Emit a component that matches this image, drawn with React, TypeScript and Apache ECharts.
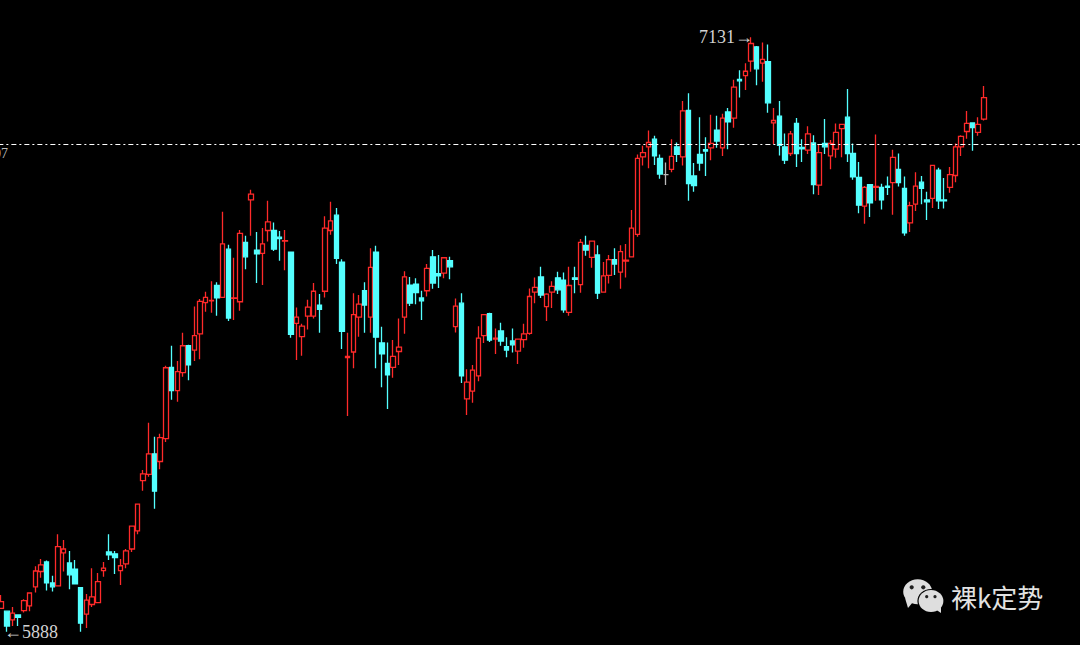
import React, { useEffect, useRef } from "react";
import * as echarts from "echarts";

const opens = [
  5937,5931,5913,5923,5932,5942,5982,6014,6034,5990,
  5984,6053,6032,6019,5980,5925,5945,5949,6016,6055,
  6051,6016,6030,6061,6099,6204,6217,6260,6244,6292,
  6441,6392,6430,6486,6477,6511,6576,6580,6612,6587,
  6688,6585,6578,6702,6791,6686,6679,6727,6727,6713,
  6705,6682,6533,6505,6548,6548,6571,6600,6727,6759,
  6661,6461,6473,6546,6601,6546,6682,6492,6449,6441,
  6474,6546,6613,6615,6586,6601,6672,6637,6638,6664,
  6526,6575,6375,6391,6423,6507,6553,6500,6517,6484,
  6496,6475,6499,6512,6598,6630,6568,6598,6628,6623,
  6556,6628,6614,6696,6671,6676,6598,6633,6666,6640,
  6663,6672,6719,6881,6902,6918,6878,6844,6855,6902,
  6881,6978,6841,6886,6896,6900,6937,6900,6975,6962,
  7043,7051,7081,7111,7077,7080,6952,6966,6902,6888,
  6951,6901,6895,6910,6822,6909,6883,6897,6940,6964,
  6888,6838,6778,6823,6817,6817,6820,6827,6855,6815,
  6743,6782,6828,6791,6794,6853,6791,6817,6842,6902,
  6934,6952,6932,6960,
];
const closes = [
  5951,5900,5927,5918,5953,5969,6015,6028,5990,5982,
  6066,6061,6007,5988,5906,5954,5961,5993,6021,6049,
  6043,6026,6057,6109,6155,6218,6260,6182,6294,6440,
  6392,6432,6486,6446,6507,6579,6587,6581,6586,6699,
  6544,6586,6721,6672,6803,6678,6699,6745,6688,6710,
  6706,6510,6546,6527,6567,6600,6562,6732,6747,6669,
  6516,6464,6551,6573,6571,6650,6504,6469,6425,6464,
  6483,6630,6575,6597,6580,6648,6617,6632,6670,6651,
  6569,6423,6410,6435,6502,6551,6498,6502,6496,6477,
  6488,6500,6511,6589,6608,6592,6594,6610,6603,6561,
  6612,6625,6702,6686,6705,6596,6632,6666,6657,6683,
  6665,6732,6878,6890,6911,6883,6845,6844,6882,6886,
  6977,6825,6821,6868,6893,6909,6914,6962,6954,7027,
  7040,7060,7118,7065,7085,6994,6957,6905,6874,6929,
  6888,6898,6929,6823,6890,6902,6909,6932,6949,6888,
  6839,6780,6817,6785,6819,6791,6817,6880,6827,6722,
  6779,6820,6815,6787,6863,6789,6789,6844,6902,6924,
  6951,6942,6949,7005,
];
const lows = [
  5937,5888,5900,5900,5928,5931,5970,6001,5974,5972,
  5984,6014,5977,5988,5888,5896,5940,5948,6003,6038,
  6009,5986,6021,6055,6092,6183,6212,6145,6228,6285,
  6373,6369,6421,6414,6454,6458,6557,6555,6549,6587,
  6538,6540,6559,6646,6716,6617,6613,6704,6684,6664,
  6644,6503,6456,6465,6520,6543,6513,6587,6718,6657,
  6479,6339,6439,6505,6513,6513,6439,6399,6354,6419,
  6446,6511,6569,6573,6540,6589,6605,6607,6627,6625,
  6514,6408,6341,6367,6412,6492,6494,6469,6486,6462,
  6472,6448,6482,6509,6575,6586,6538,6565,6594,6555,
  6549,6596,6597,6674,6649,6584,6597,6616,6634,6605,
  6629,6672,6714,6863,6857,6864,6835,6822,6849,6870,
  6863,6789,6808,6852,6841,6874,6900,6883,6897,6942,
  7005,7021,7059,7031,7038,6973,6908,6884,6866,6883,
  6860,6870,6887,6803,6801,6887,6855,6879,6880,6870,
  6833,6763,6741,6755,6789,6771,6801,6760,6819,6716,
  6724,6768,6782,6749,6774,6772,6773,6806,6828,6883,
  6919,6894,6925,6957,
];
const highs = [
  5965,5931,5940,5923,5956,5969,6025,6040,6037,6005,
  6092,6080,6057,6038,5980,5967,6021,6011,6034,6092,
  6057,6040,6061,6109,6155,6226,6325,6296,6302,6444,
  6486,6454,6513,6488,6568,6584,6599,6621,6619,6766,
  6697,6670,6728,6716,6812,6724,6732,6789,6744,6726,
  6728,6682,6566,6532,6582,6617,6594,6757,6787,6774,
  6667,6513,6596,6592,6619,6690,6695,6526,6493,6498,
  6543,6642,6630,6627,6601,6657,6686,6676,6670,6672,
  6585,6596,6437,6446,6527,6552,6555,6522,6534,6504,
  6522,6500,6532,6606,6629,6651,6596,6621,6641,6639,
  6651,6651,6709,6716,6706,6696,6661,6676,6690,6696,
  6699,6770,6886,6904,6936,6925,6886,6869,6918,6911,
  6998,7014,6868,6964,6922,6969,6967,6971,6983,7042,
  7062,7077,7131,7113,7120,7116,6983,6998,6930,6935,
  6962,6918,6945,6926,6907,6960,6916,6951,6949,7023,
  6909,6870,6820,6823,6928,6825,6840,6896,6888,6840,
  6787,6849,6841,6808,6864,6858,6837,6860,6909,6926,
  6977,6952,6964,7029,
];
const neutralDoji = [117];
const highValue = 7131;
const highIndex = 132;
const lowValue = 5888;
const lowIndex = 1;
const referenceLevel = 6907;
const referenceLabel = "6907";
const watermark = "裸k定势";
const emptySlotsAfterLast = 17;

const RED = "#ff2a2a";
const CYAN = "#54ffff";
const LABEL = "#d2d2d2";
const ICON = "#dedede";
const BLEED = 2;

export default function App() {
  const ref = useRef<HTMLDivElement>(null);
  useEffect(() => {
    document.body.style.margin = "0";
    document.body.style.background = "#000";
    document.body.style.overflow = "hidden";
    const chart = echarts.init(ref.current!, undefined, { renderer: "svg" });
    const categories = Array.from(
      { length: opens.length + emptySlotsAfterLast },
      (_, i) => String(i)
    );
    const rows = opens.map((o, i) => {
      const value = [o, closes[i], lows[i], highs[i]];
      return neutralDoji.includes(i)
        ? { value, itemStyle: { color: "#bbbbbb", color0: "#bbbbbb", borderColor: "#bbbbbb", borderColor0: "#bbbbbb" } }
        : value;
    });
    chart.setOption({
      animation: false,
      backgroundColor: "#000000",
      grid: { left: 0.36, top: 0, width: 1084.88, height: 645 },
      xAxis: { type: "category", data: categories, show: false, boundaryGap: true },
      yAxis: { type: "value", min: 5860.3, max: 7209, show: false, splitLine: { show: false } },
      series: [
        {
          type: "candlestick",
          data: rows,
          barWidth: 5,
          itemStyle: {
            color: "#000000",
            color0: CYAN,
            borderColor: RED,
            borderColor0: CYAN,
            borderWidth: 1.3,
          },
          markLine: {
            silent: true,
            symbol: "none",
            label: { show: false },
            lineStyle: { color: "#ffffff", width: 1.2, type: [5, 3, 2, 3], opacity: 1 },
            data: [{ yAxis: referenceLevel }],
          },
          markPoint: {
            silent: true,
            symbolSize: 0,
            data: [
              {
                coord: [highIndex, highValue],
                label: {
                  show: true,
                  position: "left",
                  distance: 0,
                  offset: [2, 0],
                  formatter: `${highValue}→`,
                  color: LABEL,
                  fontFamily: "Liberation Serif",
                  fontSize: 18,
                },
              },
              {
                coord: [lowIndex, lowValue],
                label: {
                  show: true,
                  position: "right",
                  distance: 0,
                  offset: [-3, 0],
                  formatter: `←${lowValue}`,
                  color: LABEL,
                  fontFamily: "Liberation Serif",
                  fontSize: 18,
                },
              },
            ],
          },
        },
      ],
      graphic: [
        {
          type: "group",
          x: BLEED,
          y: 0,
          children: [
            {
              type: "text",
              x: 8,
              y: 153,
              style: {
                text: referenceLabel,
                fill: "#bdbdbd",
                font: "14px 'Liberation Serif'",
                textAlign: "right",
                textVerticalAlign: "middle",
              },
            },
            { type: "ellipse", shape: { cx: 917.7, cy: 591.7, rx: 14.5, ry: 12.5 }, style: { fill: ICON } },
            { type: "polygon", shape: { points: [[905, 598], [913, 602], [908, 608]] }, style: { fill: ICON } },
            { type: "circle", shape: { cx: 911.7, cy: 587.3, r: 2.1 }, style: { fill: "#222" } },
            { type: "circle", shape: { cx: 923.3, cy: 587.3, r: 2.1 }, style: { fill: "#222" } },
            { type: "ellipse", shape: { cx: 931, cy: 601, rx: 13.6, ry: 12 }, style: { fill: "#000" } },
            { type: "ellipse", shape: { cx: 931, cy: 601, rx: 12.4, ry: 11 }, style: { fill: ICON } },
            { type: "polygon", shape: { points: [[935, 609], [941, 607], [941, 613]] }, style: { fill: ICON } },
            { type: "circle", shape: { cx: 926.7, cy: 596.7, r: 1.6 }, style: { fill: "#222" } },
            { type: "circle", shape: { cx: 935, cy: 596.7, r: 1.6 }, style: { fill: "#222" } },
            {
              type: "text",
              x: 951,
              y: 596,
              style: {
                text: watermark,
                fill: "#e2e2e2",
                font: "26px 'Noto Sans CJK SC'",
                textVerticalAlign: "middle",
              },
            },
          ],
        },
      ],
    });
    return () => chart.dispose();
  }, []);
  return (
    <div
      ref={ref}
      style={{ position: "fixed", left: -BLEED, top: 0, width: 1080 + 2 * BLEED + 2, height: 645, background: "#000" }}
    />
  );
}
